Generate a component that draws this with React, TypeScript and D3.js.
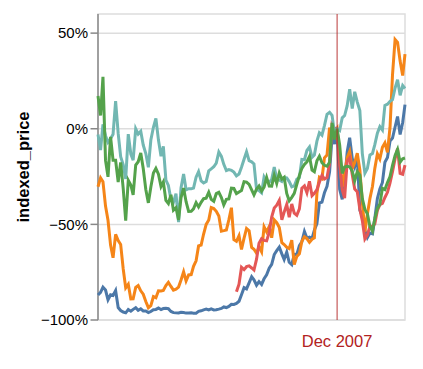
import React from "react";
import * as d3 from "d3";

// Monthly closing prices (stocks dataset), starting month given per symbol
const SYMBOLS = ["AAPL", "AMZN", "GOOG", "IBM", "MSFT"];
const COLORS = ["#4c78a8", "#f58518", "#e45756", "#72b7b2", "#54a24b"];
const START_MONTHS = ["2000-01", "2000-01", "2004-08", "2000-01", "2000-01"];
const INDEX_MONTH = "2007-12";
const INDEX_LABEL = "Dec 2007";
const Y_TICKS = [-1, -0.5, 0, 0.5];
const Y_DOMAIN = [-1, 0.6];
const X_DOMAIN = ["2000-01", "2010-03"];

const AAPL = [25.94,28.66,33.95,31.01,21,26.19,25.41,30.47,12.88,9.78,8.25,7.44,
10.81,9.12,11.03,12.74,9.98,11.62,9.4,9.27,7.76,8.78,10.65,10.95,
12.36,10.85,11.84,12.14,11.65,8.86,7.63,7.38,7.25,8.03,7.75,7.16,
7.18,7.51,7.07,7.11,8.98,9.53,10.54,11.31,10.36,11.44,10.45,10.69,
11.28,11.96,13.52,12.89,14.03,16.27,16.17,17.25,19.38,26.2,33.53,32.2,
38.45,44.86,41.67,36.06,39.76,36.81,42.65,46.89,53.61,57.59,67.82,71.89,
75.51,68.49,62.72,70.39,59.77,57.27,67.96,67.85,76.98,81.08,91.66,84.84,
85.73,84.61,92.91,99.8,121.19,122.04,131.76,138.48,153.47,189.95,182.22,198.08,
135.36,125.02,143.5,173.95,188.75,167.44,158.95,169.53,113.66,107.59,92.67,85.35,
90.13,89.31,105.12,125.83,135.81,142.43,163.39,168.21,185.35,188.5,199.91,210.73,
192.06,204.62,223.02];

const AMZN = [64.56,68.87,67,55.19,48.31,36.31,30.12,41.5,38.44,36.62,24.69,15.56,
17.31,10.19,10.23,15.78,16.69,14.15,12.49,8.94,5.97,6.98,11.32,10.82,
14.19,14.1,14.3,16.69,18.23,16.25,14.45,14.94,15.93,19.36,23.35,18.89,
21.85,22.01,26.03,28.69,35.89,36.32,41.64,46.32,48.43,54.43,53.97,52.62,
50.4,43.01,43.28,43.6,48.5,54.4,38.92,38.14,40.86,34.13,39.68,44.29,
43.22,35.18,34.27,32.36,35.51,33.09,45.15,42.7,45.3,39.86,48.46,47.15,
44.82,37.44,36.53,35.21,34.61,38.68,26.89,30.83,32.12,38.09,40.34,39.46,
37.67,39.14,39.79,61.33,69.14,68.41,78.54,79.91,93.15,89.15,90.56,92.64,
77.7,64.47,71.3,78.63,81.62,73.33,76.34,80.81,72.76,57.24,42.7,51.28,
58.82,64.79,73.44,80.52,77.99,83.66,85.76,81.19,93.36,118.81,135.91,134.52,
125.41,118.4,128.82];

const GOOG = [102.37,129.6,190.64,181.98,192.79,
195.62,187.99,180.51,220,277.27,294.15,287.76,286,316.46,372.14,404.91,414.86,
432.66,362.62,390,417.94,371.82,419.33,386.6,378.53,401.9,476.39,484.81,460.48,
501.5,449.45,458.16,471.38,497.91,522.7,510,515.25,567.27,707,693,691.48,
564.3,471.18,440.47,574.29,585.8,526.42,473.75,463.29,400.52,359.36,292.96,307.65,
338.53,337.99,348.06,395.97,417.23,421.59,443.05,461.67,495.85,536.12,583,619.98,
529.94,526.8,560.19];

const IBM = [100.52,92.11,106.11,99.95,96.31,98.33,100.74,118.62,101.19,88.5,84.12,76.47,
100.76,89.98,86.63,103.7,100.82,102.35,94.87,90.25,82.82,97.58,104.5,109.36,
97.54,88.82,94.15,75.82,72.97,65.31,63.86,68.52,53.01,71.76,79.16,70.58,
71.22,71.13,71.57,77.47,80.48,75.42,74.28,75.12,80.91,81.96,83.08,85.05,
91.06,88.7,84.41,81.04,81.59,81.19,80.19,78.17,79.13,82.84,87.15,91.16,
86.39,85.78,84.66,70.77,70.18,68.93,77.53,75.07,74.7,76.25,82.98,76.73,
75.89,75.09,77.17,77.05,75.04,72.15,72.7,76.35,77.26,87.06,86.95,91.9,
93.79,88.18,89.44,96.98,101.54,100.25,105.4,111.54,112.6,111,100.9,103.7,
102.75,109.64,110.87,116.23,125.14,114.6,123.74,118.16,113.53,90.24,79.65,82.15,
89.46,90.32,95.09,101.29,104.85,103.01,116.34,117,118.55,119.54,125.79,130.32,
121.85,127.16,125.55];

const MSFT = [39.81,36.35,43.22,28.37,25.45,32.54,28.4,28.4,24.53,28.02,23.34,17.65,
24.84,24,22.25,27.56,28.14,29.7,26.93,23.21,20.82,23.65,26.12,26.95,
25.92,23.73,24.53,21.26,20.71,22.25,19.52,19.97,17.79,21.75,23.46,21.03,
19.31,19.34,19.76,20.87,20.09,20.93,21.56,21.65,22.69,21.45,21.1,22.46,
22.69,21.77,20.46,21.45,21.53,23.44,23.38,22.47,22.76,23.02,24.6,24.52,
24.11,23.15,22.24,23.28,23.82,22.93,23.64,25.35,23.83,23.8,25.71,24.29,
26.14,25.04,25.36,22.5,21.19,21.8,22.51,24.13,25.68,26.96,27.66,28.13,
29.07,26.63,26.35,28.3,29.11,27.95,27.5,27.34,28.04,35.03,32.09,34,
31.13,26.07,27.21,27.34,27.25,26.47,24.75,26.36,25.78,21.57,19.66,18.91,
16.63,15.81,17.99,19.84,20.59,23.42,23.18,24.43,25.49,27.48,29.27,30.34,
28.05,28.67,28.8];

const PRICES = [AAPL, AMZN, GOOG, IBM, MSFT];

const W = 423;
const H = 369;
const PLOT = { left: 98, right: 405, top: 14, bottom: 320 };
const FONT = "'Liberation Sans', Arial, Helvetica, sans-serif";

const parseMonth = d3.utcParse("%Y-%m");

export default function App() {
  const x = d3
    .scaleUtc()
    .domain(X_DOMAIN.map((m) => parseMonth(m) as Date))
    .range([PLOT.left, PLOT.right]);
  const y = d3.scaleLinear().domain(Y_DOMAIN).range([PLOT.bottom, PLOT.top]);
  const fmt = d3.format(".0%");
  const indexDate = parseMonth(INDEX_MONTH) as Date;

  const series = SYMBOLS.map((sym, i) => {
    const start = parseMonth(START_MONTHS[i]) as Date;
    const prices = PRICES[i];
    const pts = prices.map((p, k) => ({ date: d3.utcMonth.offset(start, k), price: p }));
    const ref = pts.find((d) => +d.date === +indexDate)!.price;
    return {
      sym,
      color: COLORS[i],
      pts: pts.map((d) => ({ date: d.date, v: (d.price - ref) / ref })),
    };
  });

  const line = d3
    .line<{ date: Date; v: number }>()
    .x((d) => x(d.date))
    .y((d) => y(d.v));

  const rx = x(indexDate);

  return (
    <svg
      width={W}
      height={H}
      style={{ position: "absolute", left: 0, top: 0, background: "#fff" }}
      fontFamily={FONT}
    >
      {/* grid */}
      {Y_TICKS.map((t) => (
        <line
          key={"g" + t}
          x1={PLOT.left}
          x2={PLOT.right}
          y1={y(t)}
          y2={y(t)}
          stroke="#ddd"
          strokeWidth={1.5}
        />
      ))}
      {/* view frame */}
      <rect
        x={PLOT.left}
        y={PLOT.top}
        width={PLOT.right - PLOT.left}
        height={PLOT.bottom - PLOT.top}
        fill="none"
        stroke="#ddd"
        strokeWidth={1.5}
      />
      {/* y axis */}
      <line x1={PLOT.left} x2={PLOT.left} y1={PLOT.top} y2={PLOT.bottom} stroke="#888" strokeWidth={1.5} />
      {Y_TICKS.map((t) => (
        <g key={"t" + t}>
          <line x1={PLOT.left - 7.5} x2={PLOT.left} y1={y(t)} y2={y(t)} stroke="#888" strokeWidth={1.5} />
          <text
            x={PLOT.left - 10}
            y={y(t)}
            dy="0.35em"
            textAnchor="end"
            fontSize={15}
            fill="#000"
          >
            {fmt(t)}
          </text>
        </g>
      ))}
      <text
        transform={`translate(29,${(PLOT.top + PLOT.bottom) / 2}) rotate(-90)`}
        textAnchor="middle"
        fontSize={16.5}
        fontWeight="bold"
        fill="#000"
      >
        indexed_price
      </text>
      {/* lines */}
      {series.map((s) => (
        <path
          key={s.sym}
          d={line(s.pts) || ""}
          fill="none"
          stroke={s.color}
          strokeWidth={3}
          strokeLinejoin="miter"
        />
      ))}
      {/* index rule */}
      <line x1={rx} x2={rx} y1={PLOT.top} y2={PLOT.bottom} stroke="firebrick" strokeWidth={0.9} />
      <text x={rx} y={346.5} textAnchor="middle" fontSize={16.5} fill="firebrick" fontWeight={100}>
        {INDEX_LABEL}
      </text>
    </svg>
  );
}
